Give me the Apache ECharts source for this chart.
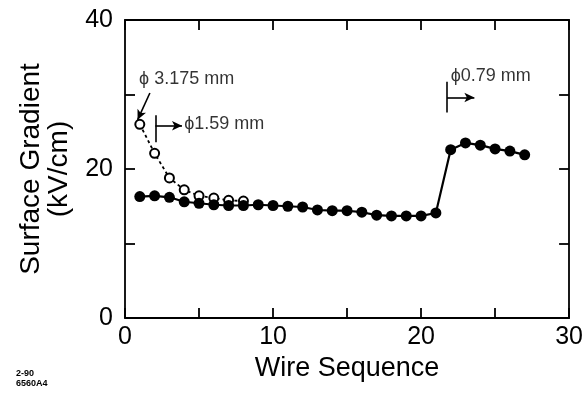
<!DOCTYPE html>
<html>
<head>
<meta charset="utf-8">
<script src="https://cdn.jsdelivr.net/npm/echarts@6/dist/echarts.min.js"></script>
<style>
html,body{margin:0;padding:0;background:#fff;}
#c{width:586px;height:397px;}
</style>
</head>
<body>
<div id="c"></div>
<script>
// ---- data ----
const wireSeqFilled = [1,2,3,4,5,6,7,8,9,10,11,12,13,14,15,16,17,18,19,20,21,22,23,24,25,26,27];
const gradientFilled = [16.3,16.4,16.2,15.6,15.4,15.2,15.1,15.1,15.2,15.1,15.0,14.9,14.5,14.4,14.4,14.2,13.8,13.7,13.7,13.7,14.1,22.6,23.5,23.2,22.7,22.4,21.9];
const wireSeqOpen = [1,2,3,4,5,6,7,8];
const gradientOpen = [26.0,22.1,18.8,17.2,16.4,16.1,15.8,15.7];
const xTickLabels = [0,10,20,30];
const yTickLabels = [0,20,40];
const annotTexts = ['\u03D5 3.175 mm', '\u03D51.59 mm', '\u03D50.79 mm'];
const annotTextPos = [[0.95,32.1],[4.0,26.0],[22.0,32.5]];
const arrowLines = [[[1.68,30.2],[0.85,26.6]], [[2.05,25.8],[3.85,25.8]], [[21.75,29.6],[23.6,29.6]]];
const barLines = [[[2.05,27.2],[2.05,23.6]], [[21.75,31.7],[21.75,27.6]]];
const footnote = ['2-90','6560A4'];

const FONT = "'Liberation Sans', Arial, Helvetica, sans-serif";

const chart = echarts.init(document.getElementById('c'), null, {renderer:'canvas'});

const axisLineStyle = {show:true, onZero:false, lineStyle:{color:'#000', width:1.8}};
const tickStyle = {show:true, inside:true, length:10, lineStyle:{color:'#000', width:1.8}};

const option = {
  backgroundColor:'#fff',
  animation:false,
  grid:{left:125, right:14, top:20, bottom:79},
  xAxis:[
    {type:'value', position:'bottom', min:0, max:30, interval:5,
     axisLine:axisLineStyle, axisTick:tickStyle, splitLine:{show:false},
     axisLabel:{color:'#000', fontFamily:FONT, fontSize:25, margin:7,
       formatter:v => xTickLabels.indexOf(v) >= 0 ? String(v) : ''},
     name:'Wire Sequence', nameLocation:'middle', nameGap:31,
     nameTextStyle:{color:'#000', fontFamily:FONT, fontSize:27}},
    {type:'value', position:'top', min:0, max:30, interval:5,
     axisLine:axisLineStyle, axisTick:tickStyle, splitLine:{show:false},
     axisLabel:{show:false}}
  ],
  yAxis:[
    {type:'value', position:'left', min:0, max:40, interval:10,
     axisLine:axisLineStyle, axisTick:tickStyle, splitLine:{show:false},
     axisLabel:{color:'#000', fontFamily:FONT, fontSize:25, margin:12,
       formatter:v => yTickLabels.indexOf(v) >= 0 ? String(v) : ''},
     name:'Surface Gradient\n(kV/cm)', nameLocation:'middle', nameGap:52,
     nameTextStyle:{color:'#000', fontFamily:FONT, fontSize:28, lineHeight:28}},
    {type:'value', position:'right', min:0, max:40, interval:10,
     axisLine:axisLineStyle, axisTick:tickStyle, splitLine:{show:false},
     axisLabel:{show:false}}
  ],
  series:[
    {type:'line', name:'open', xAxisIndex:0, yAxisIndex:0,
     data: wireSeqOpen.map((x,i)=>[x, gradientOpen[i]]),
     symbol:'circle', symbolSize:9, showSymbol:true,
     lineStyle:{color:'#000', width:1.8, type:[3,3]},
     itemStyle:{color:'#fff', borderColor:'#000', borderWidth:2},
     z:2},
    {type:'line', name:'filled', xAxisIndex:0, yAxisIndex:0,
     data: wireSeqFilled.map((x,i)=>[x, gradientFilled[i]]),
     symbol:'circle', symbolSize:11,
     lineStyle:{color:'#000', width:2.2},
     itemStyle:{color:'#000', borderColor:'#000', borderWidth:0},
     z:3,
     markLine:{
       silent:true, animation:false,
       label:{show:false},
       lineStyle:{color:'#000', width:1.6, type:'solid'},
       data: arrowLines.map(l => [
         {coord:l[0], symbol:'none'},
         {coord:l[1], symbol:'arrow', symbolSize:[7,10]}
       ]).concat(barLines.map(l => [
         {coord:l[0], symbol:'none'},
         {coord:l[1], symbol:'none'}
       ]))
     }},
    {type:'scatter', name:'annotations', xAxisIndex:0, yAxisIndex:0,
     data: annotTextPos.map((p,i)=>({value:p, label:{formatter:annotTexts[i]}})),
     symbolSize:0, silent:true, z:5,
     label:{show:true, position:'right', distance:0, color:'#000',
       fontFamily:FONT, fontSize:18}}
  ],
  graphic:[
    {type:'text', left:16, top:369,
     style:{text:footnote.join('\n'), font:"bold 9px " + FONT, fill:'#000', lineHeight:10}}
  ]
};
chart.setOption(option);
</script>
</body>
</html>
